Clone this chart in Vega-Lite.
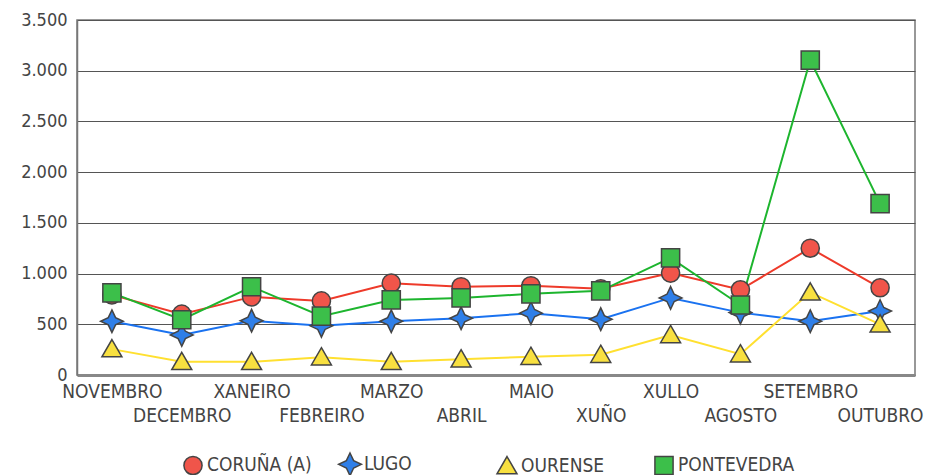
{
  "$schema": "https://vega.github.io/schema/vega-lite/v6.json",
  "width": 838,
  "height": 355,
  "autosize": {"type": "none"},
  "padding": {"left": 77, "top": 20, "right": 11, "bottom": 100},
  "background": "white",
  "config": {
    "locale": {"number": {"decimal": ",", "thousands": ".", "grouping": [3], "currency": ["", " €"]}},
    "view": {"stroke": "#777", "strokeWidth": 1.5},
    "font": "DejaVu Sans Condensed"
  },
  "data": {
    "values": [
      {"mes": "NOVEMBRO", "prov": "CORUÑA (A)", "v": 790},
      {"mes": "DECEMBRO", "prov": "CORUÑA (A)", "v": 600},
      {"mes": "XANEIRO", "prov": "CORUÑA (A)", "v": 770},
      {"mes": "FEBREIRO", "prov": "CORUÑA (A)", "v": 730},
      {"mes": "MARZO", "prov": "CORUÑA (A)", "v": 905},
      {"mes": "ABRIL", "prov": "CORUÑA (A)", "v": 870},
      {"mes": "MAIO", "prov": "CORUÑA (A)", "v": 880},
      {"mes": "XUÑO", "prov": "CORUÑA (A)", "v": 850},
      {"mes": "XULLO", "prov": "CORUÑA (A)", "v": 1005},
      {"mes": "AGOSTO", "prov": "CORUÑA (A)", "v": 840},
      {"mes": "SETEMBRO", "prov": "CORUÑA (A)", "v": 1250},
      {"mes": "OUTUBRO", "prov": "CORUÑA (A)", "v": 860},
      {"mes": "NOVEMBRO", "prov": "LUGO", "v": 530},
      {"mes": "DECEMBRO", "prov": "LUGO", "v": 395},
      {"mes": "XANEIRO", "prov": "LUGO", "v": 535},
      {"mes": "FEBREIRO", "prov": "LUGO", "v": 485},
      {"mes": "MARZO", "prov": "LUGO", "v": 530},
      {"mes": "ABRIL", "prov": "LUGO", "v": 560},
      {"mes": "MAIO", "prov": "LUGO", "v": 610},
      {"mes": "XUÑO", "prov": "LUGO", "v": 550},
      {"mes": "XULLO", "prov": "LUGO", "v": 760},
      {"mes": "AGOSTO", "prov": "LUGO", "v": 615},
      {"mes": "SETEMBRO", "prov": "LUGO", "v": 530},
      {"mes": "OUTUBRO", "prov": "LUGO", "v": 630},
      {"mes": "NOVEMBRO", "prov": "OURENSE", "v": 255},
      {"mes": "DECEMBRO", "prov": "OURENSE", "v": 130},
      {"mes": "XANEIRO", "prov": "OURENSE", "v": 130},
      {"mes": "FEBREIRO", "prov": "OURENSE", "v": 175},
      {"mes": "MARZO", "prov": "OURENSE", "v": 130},
      {"mes": "ABRIL", "prov": "OURENSE", "v": 155},
      {"mes": "MAIO", "prov": "OURENSE", "v": 180},
      {"mes": "XUÑO", "prov": "OURENSE", "v": 200},
      {"mes": "XULLO", "prov": "OURENSE", "v": 395},
      {"mes": "AGOSTO", "prov": "OURENSE", "v": 205},
      {"mes": "SETEMBRO", "prov": "OURENSE", "v": 815},
      {"mes": "OUTUBRO", "prov": "OURENSE", "v": 500},
      {"mes": "NOVEMBRO", "prov": "PONTEVEDRA", "v": 810},
      {"mes": "DECEMBRO", "prov": "PONTEVEDRA", "v": 545},
      {"mes": "XANEIRO", "prov": "PONTEVEDRA", "v": 870},
      {"mes": "FEBREIRO", "prov": "PONTEVEDRA", "v": 580},
      {"mes": "MARZO", "prov": "PONTEVEDRA", "v": 740},
      {"mes": "ABRIL", "prov": "PONTEVEDRA", "v": 760},
      {"mes": "MAIO", "prov": "PONTEVEDRA", "v": 800},
      {"mes": "XUÑO", "prov": "PONTEVEDRA", "v": 830},
      {"mes": "XULLO", "prov": "PONTEVEDRA", "v": 1155},
      {"mes": "AGOSTO", "prov": "PONTEVEDRA", "v": 690},
      {"mes": "SETEMBRO", "prov": "PONTEVEDRA", "v": 3105},
      {"mes": "OUTUBRO", "prov": "PONTEVEDRA", "v": 1690}
    ]
  },
  "encoding": {
    "x": {
      "field": "mes",
      "type": "ordinal",
      "sort": ["NOVEMBRO", "DECEMBRO", "XANEIRO", "FEBREIRO", "MARZO", "ABRIL", "MAIO", "XUÑO", "XULLO", "AGOSTO", "SETEMBRO", "OUTUBRO"],
      "scale": {"type": "point", "padding": 0.5},
      "axis": {
        "title": null,
        "labelAngle": 0,
        "labelFont": "DejaVu Sans Condensed",
        "labelFontSize": 19,
        "labelColor": "#444",
        "labelBaseline": "top",
        "labelPadding": {
          "condition": {"test": "indexof(['DECEMBRO','FEBREIRO','ABRIL','XUÑO','AGOSTO','OUTUBRO'], datum.value) >= 0", "value": 31},
          "value": 7
        },
        "labelOverlap": false,
        "labelBound": false,
        "ticks": false,
        "domainColor": "#888",
        "domainWidth": 3,
        "grid": false
      }
    },
    "y": {
      "field": "v",
      "type": "quantitative",
      "scale": {"domain": [0, 3500], "nice": false},
      "axis": {
        "title": null,
        "values": [0, 500, 1000, 1500, 2000, 2500, 3000, 3500],
        "format": ",d",
        "labelFont": "DejaVu Sans Condensed",
        "labelFontSize": 18,
        "labelColor": "#444",
        "labelPadding": 10,
        "ticks": false,
        "grid": true,
        "gridColor": "#555",
        "gridWidth": 1,
        "gridOpacity": 1,
        "domainColor": "#777",
        "domainWidth": 1.5
      }
    }
  },
  "layer": [
    {
      "transform": [{"filter": "datum.prov === 'CORUÑA (A)'"}],
      "mark": {"type": "line", "strokeWidth": 2, "color": "#ee3a2a"},
      "encoding": {}
    },
    {
      "transform": [{"filter": "datum.prov === 'LUGO'"}],
      "mark": {"type": "line", "strokeWidth": 2, "color": "#1a72f0"},
      "encoding": {}
    },
    {
      "transform": [{"filter": "datum.prov === 'OURENSE'"}],
      "mark": {"type": "line", "strokeWidth": 2, "color": "#ffe030"},
      "encoding": {}
    },
    {
      "transform": [{"filter": "datum.prov === 'PONTEVEDRA'"}],
      "mark": {"type": "line", "strokeWidth": 2, "color": "#1db52e"},
      "encoding": {}
    },
    {
      "mark": {"type": "point", "filled": true, "opacity": 1, "stroke": "#444", "strokeWidth": 1.5, "size": 330},
      "encoding": {
        "fill": {
          "field": "prov",
          "type": "nominal",
          "scale": {"domain": ["CORUÑA (A)", "LUGO", "OURENSE", "PONTEVEDRA"], "range": ["#f0554a", "#2f7fe8", "#f8e040", "#3cbf4a"]},
          "legend": {
            "title": null,
            "orient": "none",
            "legendX": 106,
            "legendY": 434,
            "direction": "horizontal",
            "columns": 4,
            "gridAlign": "all",
            "columnPadding": 11,
            "labelFont": "DejaVu Sans Condensed",
            "labelFontSize": 19,
            "labelColor": "#444",
            "labelOffset": 4,
            "labelLimit": 300,
            "symbolSize": 330,
            "symbolStrokeColor": "#444",
            "symbolStrokeWidth": 1.5,
            "symbolOpacity": 1
          }
        },
        "shape": {
          "field": "prov",
          "type": "nominal",
          "scale": {
            "domain": ["CORUÑA (A)", "LUGO", "OURENSE", "PONTEVEDRA"],
            "range": [
              "circle",
              "M0,-1.25L0.4,-0.4L1.25,0L0.4,0.4L0,1.25L-0.4,0.4L-1.25,0L-0.4,-0.4Z",
              "M0,-1.05L1.1,0.85L-1.1,0.85Z",
              "square"
            ]
          }
        },
        "order": {"field": "prov", "type": "nominal"}
      }
    }
  ]
}
